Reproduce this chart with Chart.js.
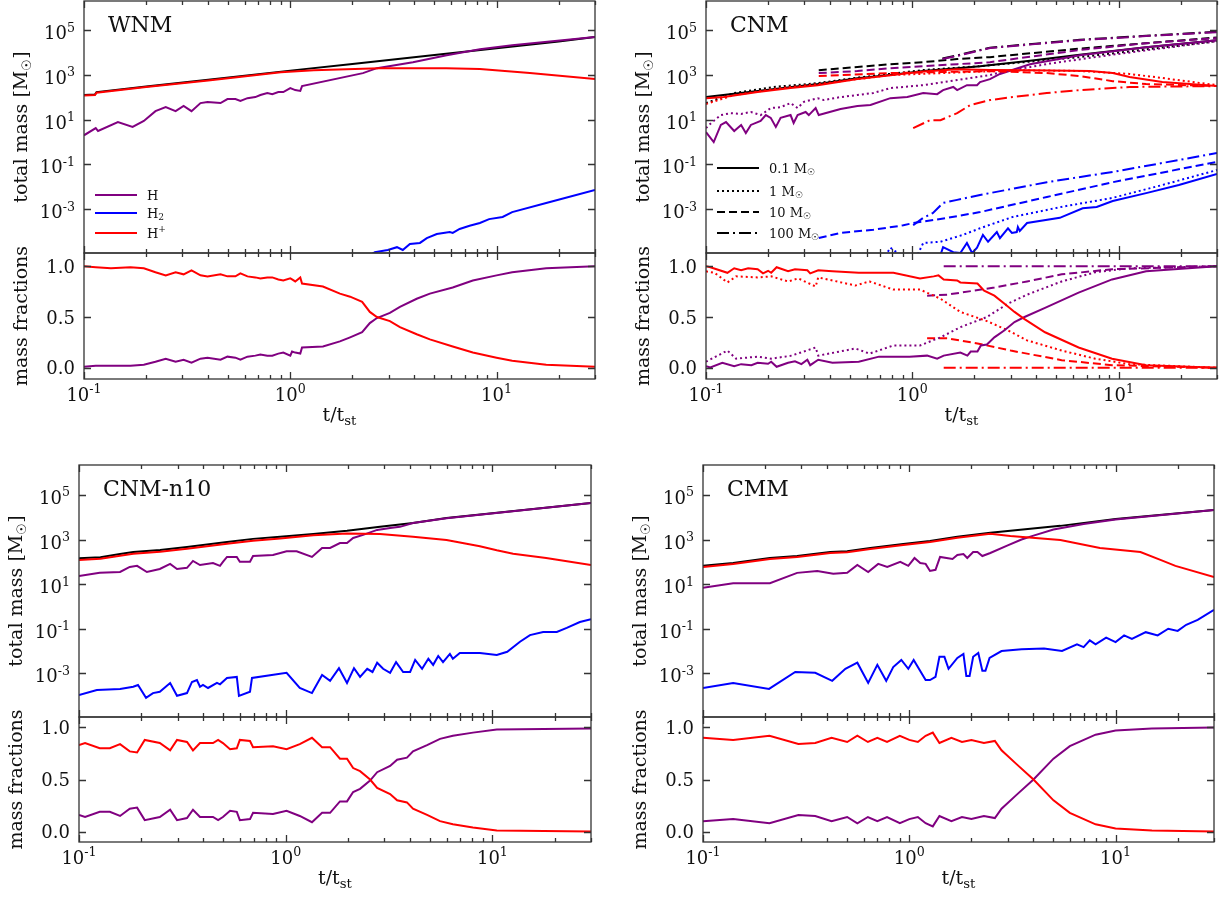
<!DOCTYPE html>
<html>
<head>
<meta charset="utf-8">
<script src="https://cdn.jsdelivr.net/npm/chart.js@4.4.1/dist/chart.umd.min.js"></script>
<style>
  body { margin: 0; background: #fff; width: 1225px; height: 898px; position: relative; overflow: hidden; }
  canvas { position: absolute; }
</style>
</head>
<body>
<script>
// ---------------- WNM (top left) ----------------
const wnmTotT = [0.1, 0.113, 0.115, 0.2, 0.4, 1.0, 2.0, 5.0, 10, 20, 30];
const wnmTot  = [126, 132, 170, 300, 600, 1550, 3100, 7800, 15500, 31000, 49000];
const wnmAtomT = [0.1, 0.114, 0.117, 0.146, 0.172, 0.195, 0.222, 0.249, 0.278, 0.304, 0.332, 0.367, 0.397, 0.459, 0.496, 0.542, 0.573, 0.62, 0.677, 0.716, 0.774, 0.818, 0.875, 0.925, 1.0, 1.057, 1.118, 1.14, 2.25, 2.63, 3.93, 5.73, 8.3, 11.9, 30];
const wnmAtom  = [2.0, 4.2, 3.1, 7.8, 4.7, 8.7, 24, 36, 24, 41, 24, 55, 62, 55, 83, 83, 68, 91, 102, 126, 155, 138, 170, 170, 257, 209, 191, 316, 1200, 2000, 3700, 7600, 14000, 21000, 49000];
const wnmMolT = [2.4, 2.57, 2.97, 3.29, 3.51, 3.80, 4.25, 4.59, 5.13, 5.93, 6.13, 6.62, 7.4, 8.3, 9.2, 10.7, 11.9, 17.4, 30];
const wnmMol  = [8e-6, 1.2e-5, 1.5e-5, 2.0e-5, 1.5e-5, 2.8e-5, 3.1e-5, 5.1e-5, 7.8e-5, 9.5e-5, 8.7e-5, 1.3e-4, 1.8e-4, 2.4e-4, 3.6e-4, 4.5e-4, 7.4e-4, 1.9e-3, 7.2e-3];
const wnmIonT = [0.1, 0.113, 0.115, 0.2, 0.4, 0.9, 1.3, 2.7, 5.7, 8.3, 14.5, 30];
const wnmIon  = [120, 125, 160, 285, 560, 1320, 1620, 2000, 2000, 1820, 1200, 650];
const wnmFracT = [0.1, 0.114, 0.135, 0.168, 0.195, 0.222, 0.249, 0.278, 0.304, 0.332, 0.367, 0.397, 0.459, 0.496, 0.542, 0.573, 0.62, 0.677, 0.716, 0.774, 0.818, 0.875, 0.925, 1.0, 1.02, 1.057, 1.118, 1.14, 1.44, 1.74, 1.95, 2.23, 2.43, 2.63, 3.04, 3.40, 4.1, 4.75, 6.13, 7.67, 10, 11.9, 17.4, 30];
const wnmFracIon  = [1.0, 0.99, 0.98, 0.99, 0.98, 0.94, 0.91, 0.94, 0.92, 0.96, 0.91, 0.90, 0.92, 0.90, 0.90, 0.93, 0.90, 0.89, 0.88, 0.89, 0.89, 0.87, 0.86, 0.88, 0.87, 0.85, 0.89, 0.83, 0.80, 0.73, 0.70, 0.65, 0.55, 0.50, 0.46, 0.40, 0.33, 0.28, 0.21, 0.15, 0.10, 0.07, 0.03, 0.01];
const wnmFracAtom = [0.01, 0.02, 0.02, 0.02, 0.03, 0.06, 0.09, 0.06, 0.08, 0.05, 0.09, 0.10, 0.08, 0.11, 0.10, 0.08, 0.11, 0.12, 0.13, 0.12, 0.12, 0.14, 0.15, 0.12, 0.16, 0.15, 0.14, 0.20, 0.21, 0.26, 0.30, 0.35, 0.44, 0.49, 0.54, 0.60, 0.68, 0.73, 0.79, 0.86, 0.91, 0.94, 0.98, 1.0];

// ---------------- CNM (top right), four sink masses ----------------
// 0.1 Msun (solid)
const cnmTot1T = [0.1, 0.178, 0.348, 0.542, 0.783, 1.13, 1.65, 2.13, 3.72, 6.48, 13.6, 30];
const cnmTot1  = [102, 190, 390, 700, 1000, 1500, 2000, 2450, 4300, 8000, 17000, 35500];
const cnmAtom1T = [0.1, 0.109, 0.118, 0.125, 0.137, 0.148, 0.156, 0.165, 0.184, 0.195, 0.206, 0.218, 0.23, 0.257, 0.266, 0.278, 0.304, 0.315, 0.34, 0.352, 0.449, 0.542, 0.627, 0.783, 0.946, 1.13, 1.32, 1.41, 1.58, 1.65, 1.84, 2.06, 2.13, 2.38, 2.66, 3.72, 6.48, 13.6, 30];
const cnmAtom1  = [2.8, 1.0, 5.8, 7.8, 3.1, 5.8, 2.5, 5.8, 8.7, 16, 12, 4.7, 12, 16, 7.1, 16, 22, 16, 33, 16, 30, 41, 45, 91, 102, 155, 138, 209, 288, 209, 347, 347, 479, 646, 1100, 3000, 7500, 17000, 35000];
const cnmMol1T = [1.37, 1.41, 1.58, 1.71, 1.84, 1.95, 2.06, 2.20, 2.33, 2.57, 2.66, 2.91, 3.04, 3.21, 3.25, 3.32, 3.60, 5.19, 6.70, 7.83, 9.37, 13.6, 19.6, 30];
const cnmMol1  = [9e-6, 2e-5, 1.2e-5, 1.1e-5, 3.1e-5, 1.1e-5, 1.9e-5, 7.1e-5, 3.5e-5, 9.5e-5, 5.1e-5, 1.4e-4, 8.7e-5, 9.5e-5, 1.6e-4, 1.07e-4, 2.4e-4, 4.1e-4, 1.1e-3, 1.26e-3, 2.3e-3, 5.2e-3, 0.012, 0.037];
const cnmIon1T = [0.1, 0.122, 0.178, 0.257, 0.348, 0.542, 0.783, 1.13, 1.65, 2.38, 3.72, 7.24, 9.37, 11.3, 16.3, 30];
const cnmIon1  = [91, 102, 170, 257, 347, 650, 950, 1400, 1800, 1650, 1620, 1480, 1200, 800, 480, 316];
// 1 Msun (dotted)
const cnmTot2T = [0.1, 0.137, 0.213, 0.348, 0.542, 1.13, 2.13, 6.48, 30];
const cnmTot2  = [55, 155, 288, 427, 750, 1650, 2450, 6200, 32000];
const cnmAtom2T = [0.1, 0.106, 0.118, 0.132, 0.148, 0.165, 0.184, 0.206, 0.23, 0.257, 0.278, 0.298, 0.348, 0.372, 0.449, 0.542, 0.648, 0.783, 1.13, 1.65, 2.38, 2.66, 4.64, 9.37, 30];
const cnmAtom2  = [4.2, 7.1, 16, 19.5, 18, 22, 16, 33, 36, 55, 33, 62, 91, 75, 102, 126, 155, 257, 347, 590, 980, 1300, 3200, 8000, 32000];
const cnmMol2T = [0.74, 0.783, 0.875, 1.06, 1.13, 1.37, 1.76, 2.13, 3.07, 5.37, 9.37, 16.3, 30];
const cnmMol2  = [8e-6, 1.9e-5, 9e-6, 9e-6, 3.1e-5, 3.5e-5, 7.1e-5, 1.4e-4, 4.5e-4, 1.3e-3, 3.2e-3, 0.012, 0.056];
const cnmIon2T = [0.1, 0.137, 0.213, 0.348, 0.783, 2.13, 3.5, 6.48, 11.3, 16.3, 30];
const cnmIon2  = [50, 126, 234, 390, 980, 1400, 1600, 1500, 1100, 724, 347];
// 10 Msun (dashed)
const cnmTot3T = [0.352, 0.542, 0.783, 1.13, 1.65, 2.38, 6.48, 30];
const cnmTot3  = [1620, 2240, 3000, 3700, 5100, 6200, 15000, 47000];
const cnmAtom3T = [0.352, 0.542, 0.783, 1.13, 1.65, 2.38, 6.48, 13.6, 30];
const cnmAtom3  = [1200, 1480, 2000, 2450, 3000, 3700, 12900, 26000, 44000];
const cnmMol3T = [0.352, 0.449, 0.648, 0.905, 1.01, 1.48, 2.13, 4.49, 9.37, 30];
const cnmMol3  = [5.1e-5, 8.7e-5, 1.2e-4, 1.9e-4, 2.4e-4, 4.1e-4, 7.4e-4, 3.5e-3, 0.016, 0.13];
const cnmIon3T = [0.352, 0.783, 2.38, 4.49, 6.48, 9.37, 13.6, 30];
const cnmIon3  = [890, 1200, 1480, 1200, 890, 525, 390, 316];
// 100 Msun (dash-dot)
const cnmTot4T = [1.40, 1.71, 2.38, 6.48, 13.6, 30];
const cnmTot4  = [5400, 8000, 16500, 37000, 56000, 84000];
const cnmAtom4T = [1.40, 1.71, 2.38, 6.48, 13.6, 30];
const cnmAtom4  = [5100, 7600, 15800, 35500, 54000, 81000];
const cnmMol4T = [1.01, 1.13, 1.26, 1.41, 1.65, 2.13, 4.49, 9.37, 30];
const cnmMol4  = [1.9e-4, 4.1e-4, 6.8e-4, 1.9e-3, 2.6e-3, 4.3e-3, 0.016, 0.046, 0.32];
const cnmIon4T = [1.01, 1.22, 1.37, 1.65, 1.91, 2.38, 3.07, 4.49, 6.48, 11.3, 30];
const cnmIon4  = [4.2, 9.5, 9.5, 19.5, 45, 75, 102, 155, 209, 288, 316];
// mass fractions
const cnmFIon1T = [0.1, 0.105, 0.127, 0.137, 0.148, 0.16, 0.178, 0.189, 0.2, 0.207, 0.22, 0.25, 0.27, 0.31, 0.32, 0.35, 0.41, 0.55, 0.81, 1.09, 1.27, 1.34, 1.42, 1.65, 1.71, 2.07, 2.23, 2.5, 2.8, 3.13, 3.5, 4.4, 6.4, 9.3, 13.6, 30];
const cnmFIon1  = [1.0, 0.99, 0.935, 0.98, 0.96, 0.98, 0.97, 0.93, 0.955, 0.935, 0.99, 0.95, 0.97, 0.96, 0.93, 0.96, 0.95, 0.935, 0.935, 0.88, 0.90, 0.91, 0.87, 0.86, 0.84, 0.83, 0.76, 0.71, 0.63, 0.55, 0.48, 0.35, 0.20, 0.09, 0.026, 0.0];
const cnmFAtom1T = [0.1, 0.105, 0.12, 0.137, 0.148, 0.166, 0.178, 0.2, 0.207, 0.22, 0.25, 0.27, 0.29, 0.31, 0.32, 0.35, 0.41, 0.55, 0.69, 0.97, 1.18, 1.32, 1.42, 1.71, 1.85, 1.92, 2.07, 2.15, 2.3, 2.5, 2.8, 3.13, 3.5, 4.4, 6.4, 9.3, 13.6, 30];
const cnmFAtom1  = [0.016, 0.003, 0.05, 0.016, 0.036, 0.026, 0.05, 0.04, 0.06, 0.01, 0.05, 0.065, 0.036, 0.08, 0.026, 0.08, 0.05, 0.06, 0.11, 0.11, 0.12, 0.09, 0.12, 0.15, 0.12, 0.16, 0.16, 0.22, 0.23, 0.30, 0.37, 0.45, 0.50, 0.59, 0.74, 0.87, 0.95, 1.0];
const cnmFIon2T = [0.1, 0.11, 0.127, 0.14, 0.178, 0.207, 0.25, 0.28, 0.34, 0.35, 0.53, 0.62, 0.81, 1.09, 1.37, 1.71, 2.3, 2.9, 3.6, 5.3, 7.7, 11.3, 30];
const cnmFIon2  = [0.95, 0.935, 0.84, 0.90, 0.89, 0.90, 0.85, 0.88, 0.80, 0.89, 0.81, 0.85, 0.77, 0.77, 0.68, 0.55, 0.46, 0.37, 0.27, 0.17, 0.09, 0.036, 0.0];
const cnmFAtom2T = [0.1, 0.127, 0.14, 0.178, 0.207, 0.26, 0.34, 0.35, 0.53, 0.62, 0.81, 1.09, 1.37, 1.71, 2.3, 2.9, 3.6, 5.3, 7.7, 11.3, 30];
const cnmFAtom2  = [0.06, 0.17, 0.09, 0.11, 0.09, 0.12, 0.20, 0.12, 0.19, 0.14, 0.22, 0.22, 0.30, 0.40, 0.50, 0.63, 0.72, 0.85, 0.94, 0.98, 1.0];
const cnmFIon3T = [1.18, 1.48, 2.07, 3.0, 5.3, 9.3, 30];
const cnmFIon3  = [0.29, 0.29, 0.24, 0.17, 0.075, 0.026, 0.0];
const cnmFAtom3T = [1.18, 1.48, 2.5, 3.6, 5.3, 9.3, 30];
const cnmFAtom3  = [0.71, 0.72, 0.79, 0.85, 0.92, 0.97, 1.0];
const cnmFIon4T = [1.42, 30];
const cnmFIon4  = [0.0, 0.0];
const cnmFAtom4T = [1.42, 30];
const cnmFAtom4  = [1.0, 1.0];

// ---------------- CNM-n10 (bottom left) ----------------
const n10TotT = [0.1, 0.127, 0.158, 0.183, 0.247, 0.333, 0.52, 0.695, 0.94, 1.36, 1.98, 2.86, 4.13, 6.0, 30];
const n10Tot  = [145, 160, 224, 275, 339, 468, 776, 1070, 1320, 1780, 2450, 3700, 5500, 9300, 44000];
const n10AtomT = [0.1, 0.126, 0.158, 0.176, 0.191, 0.213, 0.246, 0.276, 0.298, 0.333, 0.356, 0.385, 0.445, 0.481, 0.497, 0.52, 0.58, 0.6, 0.672, 0.695, 0.868, 1.01, 1.13, 1.34, 1.50, 1.64, 1.83, 1.98, 2.12, 2.37, 2.77, 3.20, 3.57, 4.13, 6.0, 30];
const n10Atom  = [23, 32, 35, 59, 66, 35, 48, 81, 48, 54, 110, 72, 89, 66, 100, 166, 166, 100, 100, 182, 204, 300, 300, 166, 417, 417, 700, 700, 1170, 1620, 2700, 3300, 3700, 5500, 9000, 44000];
const n10MolT = [0.1, 0.122, 0.158, 0.183, 0.193, 0.211, 0.228, 0.246, 0.276, 0.298, 0.333, 0.352, 0.372, 0.385, 0.398, 0.421, 0.465, 0.481, 0.52, 0.58, 0.594, 0.672, 0.687, 1.01, 1.17, 1.34, 1.50, 1.64, 1.81, 1.98, 2.14, 2.29, 2.48, 2.63, 2.77, 2.96, 3.20, 3.42, 3.70, 4.0, 4.23, 4.57, 4.9, 5.17, 5.47, 5.77, 6.23, 6.44, 6.96, 8.7, 10.5, 11.8, 13.6, 15.2, 17.6, 20.5, 22.9, 26.5, 30];
const n10Mol  = [1.07e-4, 1.8e-4, 2.0e-4, 2.5e-4, 3.0e-4, 8e-5, 1.3e-4, 1.5e-4, 3.7e-4, 9.8e-5, 1.3e-4, 4.1e-4, 5e-4, 2.5e-4, 3e-4, 2.2e-4, 3.7e-4, 3.2e-4, 6.2e-4, 6.9e-4, 9.8e-5, 1.5e-4, 6.2e-4, 1.05e-3, 2.2e-4, 1.3e-4, 8.5e-4, 4.6e-4, 1.7e-3, 3.7e-4, 1.7e-3, 6.9e-4, 1.6e-3, 1.15e-3, 3e-3, 1.6e-3, 1.05e-3, 3.2e-3, 1.15e-3, 1.15e-3, 4e-3, 1.6e-3, 4.5e-3, 2.4e-3, 6e-3, 3.2e-3, 7.4e-3, 4.5e-3, 8.1e-3, 8.1e-3, 6.7e-3, 9.2e-3, 0.026, 0.052, 0.072, 0.072, 0.11, 0.2, 0.27];
const n10IonT = [0.1, 0.127, 0.158, 0.183, 0.247, 0.333, 0.52, 0.695, 0.94, 1.36, 1.98, 2.86, 4.13, 6.0, 8.7, 10.5, 12.6, 18.2, 30];
const n10Ion  = [120, 136, 186, 228, 281, 388, 644, 888, 1100, 1550, 1850, 1780, 1320, 950, 500, 330, 230, 150, 72];
const n10FracT = [0.1, 0.107, 0.126, 0.141, 0.158, 0.176, 0.191, 0.208, 0.246, 0.276, 0.298, 0.333, 0.356, 0.385, 0.445, 0.471, 0.497, 0.538, 0.58, 0.6, 0.672, 0.695, 0.868, 1.01, 1.17, 1.34, 1.50, 1.64, 1.83, 1.98, 2.12, 2.29, 2.56, 2.77, 3.20, 3.46, 3.86, 4.13, 4.83, 5.58, 6.44, 8.05, 10.5, 30];
const n10FracIon  = [0.83, 0.85, 0.80, 0.80, 0.84, 0.77, 0.76, 0.88, 0.85, 0.78, 0.88, 0.86, 0.78, 0.85, 0.85, 0.88, 0.85, 0.79, 0.80, 0.88, 0.87, 0.81, 0.82, 0.79, 0.84, 0.90, 0.81, 0.81, 0.70, 0.70, 0.61, 0.58, 0.50, 0.42, 0.36, 0.30, 0.28, 0.22, 0.16, 0.10, 0.07, 0.04, 0.01, 0.0];
const n10FracAtom = [0.16, 0.14, 0.19, 0.19, 0.15, 0.22, 0.23, 0.11, 0.14, 0.21, 0.11, 0.13, 0.21, 0.14, 0.14, 0.11, 0.14, 0.20, 0.19, 0.11, 0.12, 0.18, 0.17, 0.20, 0.15, 0.09, 0.18, 0.18, 0.29, 0.29, 0.38, 0.41, 0.49, 0.57, 0.63, 0.69, 0.71, 0.77, 0.83, 0.89, 0.92, 0.95, 0.98, 0.99];

// ---------------- CMM (bottom right) ----------------
const cmmTotT = [0.1, 0.14, 0.211, 0.286, 0.414, 0.5, 0.647, 0.935, 1.26, 1.71, 2.47, 5.4, 10, 30];
const cmmTot  = [66, 89, 148, 182, 275, 300, 417, 630, 870, 1320, 2000, 4100, 8300, 21000];
const cmmAtomT = [0.1, 0.14, 0.211, 0.286, 0.358, 0.428, 0.50, 0.56, 0.632, 0.707, 0.782, 0.904, 0.989, 1.06, 1.13, 1.2, 1.26, 1.34, 1.41, 1.62, 1.71, 1.83, 1.91, 2.04, 2.14, 2.26, 2.47, 3.0, 3.5, 4.0, 5.0, 7.0, 10, 30];
const cmmAtom  = [6.8, 11, 11, 32, 39, 29, 32, 72, 35, 81, 59, 100, 66, 148, 89, 81, 39, 44, 166, 135, 204, 224, 148, 275, 275, 182, 250, 550, 1000, 1500, 2800, 5000, 8000, 21000];
const cmmMolT = [0.1, 0.14, 0.209, 0.28, 0.35, 0.423, 0.49, 0.56, 0.632, 0.70, 0.773, 0.836, 0.915, 0.989, 1.05, 1.2, 1.26, 1.34, 1.40, 1.48, 1.55, 1.71, 1.83, 1.89, 1.96, 2.04, 2.16, 2.26, 2.34, 2.45, 2.8, 3.5, 4.5, 5.5, 6.5, 7, 7.5, 8, 9, 10, 11, 12, 14, 16, 18, 20, 22, 25, 30];
const cmmMol  = [2.2e-4, 3.7e-4, 2e-4, 1.15e-3, 1.05e-3, 4.6e-4, 1.6e-3, 3e-3, 3.7e-4, 2.4e-3, 4.6e-4, 1.9e-3, 4e-3, 1.6e-3, 4e-3, 5e-4, 5e-4, 6.9e-4, 5.5e-3, 5.5e-3, 1.6e-3, 4.9e-3, 7.4e-3, 7.6e-4, 7.6e-4, 5.5e-3, 8.1e-3, 1.3e-3, 1.3e-3, 4.9e-3, 0.01, 0.012, 0.013, 0.01, 0.02, 0.015, 0.03, 0.02, 0.04, 0.025, 0.05, 0.035, 0.07, 0.05, 0.1, 0.08, 0.15, 0.25, 0.7];
const cmmIonT = [0.1, 0.14, 0.211, 0.286, 0.414, 0.5, 0.647, 0.935, 1.26, 1.71, 2.47, 3.09, 5.4, 8.4, 13.2, 16.5, 19.5, 30];
const cmmIon  = [59, 80, 133, 164, 248, 270, 375, 567, 783, 1190, 1800, 1450, 950, 420, 275, 123, 66, 21];
const cmmFracT = [0.1, 0.14, 0.21, 0.29, 0.35, 0.42, 0.5, 0.56, 0.63, 0.7, 0.78, 0.9, 1.0, 1.1, 1.2, 1.3, 1.4, 1.6, 1.8, 2.0, 2.3, 2.6, 2.8, 3.3, 4.0, 5.0, 6.0, 8.0, 10, 15, 30];
const cmmFracIon  = [0.90, 0.88, 0.92, 0.84, 0.85, 0.90, 0.86, 0.92, 0.86, 0.90, 0.86, 0.92, 0.88, 0.86, 0.92, 0.95, 0.85, 0.90, 0.86, 0.88, 0.85, 0.87, 0.78, 0.65, 0.50, 0.30, 0.18, 0.07, 0.03, 0.01, 0.0];
const cmmFracAtom = [0.10, 0.12, 0.08, 0.16, 0.15, 0.10, 0.14, 0.08, 0.14, 0.10, 0.14, 0.08, 0.12, 0.14, 0.08, 0.05, 0.15, 0.10, 0.14, 0.12, 0.15, 0.13, 0.22, 0.35, 0.50, 0.70, 0.82, 0.93, 0.97, 0.99, 1.0];

// tick labels
const massTicks = [1e-3, 1e-1, 1e1, 1e3, 1e5];
const massLabels = ['10^{-3}', '10^{-1}', '10^{1}', '10^{3}', '10^{5}'];
const fracTicks = [0, 0.5, 1];
const fracLabels = ['0.0', '0.5', '1.0'];
const timeTicks = [0.1, 1, 10];
const timeLabels = ['10^{-1}', '10^{0}', '10^{1}'];

const purple = '#800080', blue = '#0000ff', red = '#ff0000', black = '#000000';
const DOT = [2, 3], DASH = [8, 4], DASHDOT = [12, 4, 2, 4];
const SERIF = '"DejaVu Serif", "Liberation Serif", serif';

function series(t, v, color, dash) {
  return {
    data: t.map((x, i) => ({ x: x, y: v[i] })),
    borderColor: color, borderWidth: 2, borderDash: dash || [],
    pointRadius: 0, tension: 0, fill: false
  };
}

// tiny "mathtext": a^{b} / a_{b}
function parse(s) {
  const out = [];
  let i = 0;
  while (i < s.length) {
    if ((s[i] === '^' || s[i] === '_') && s[i + 1] === '{') {
      const j = s.indexOf('}', i);
      out.push({ t: s.slice(i + 2, j), sup: s[i] === '^', sub: s[i] === '_' });
      i = j + 1;
    } else {
      let j = i;
      while (j < s.length && !((s[j] === '^' || s[j] === '_') && s[j + 1] === '{')) j++;
      out.push({ t: s.slice(i, j) });
      i = j;
    }
  }
  return out;
}

function drawRich(ctx, str, x, y, size, align) {
  const parts = parse(str);
  let w = 0;
  parts.forEach(p => {
    ctx.font = ((p.sup || p.sub) ? size * 0.7 : size) + 'px ' + SERIF;
    w += ctx.measureText(p.t).width;
  });
  let cx = align === 'right' ? x - w : align === 'center' ? x - w / 2 : x;
  ctx.textAlign = 'left';
  ctx.textBaseline = 'alphabetic';
  parts.forEach(p => {
    ctx.font = ((p.sup || p.sub) ? size * 0.7 : size) + 'px ' + SERIF;
    const dy = p.sup ? -size * 0.42 : p.sub ? size * 0.22 : 0;
    ctx.fillText(p.t, cx, y + dy);
    cx += ctx.measureText(p.t).width;
  });
}

// matplotlib-like frame: inward ticks on all sides, labels, titles, legend
const framePlugin = {
  id: 'frame',
  afterDraw(chart, args, o) {
    const ctx = chart.ctx, a = chart.chartArea;
    const xs = chart.scales.x, ys = chart.scales.y;
    ctx.save();
    ctx.strokeStyle = '#333';
    ctx.lineWidth = 1.3;
    ctx.setLineDash([]);
    ctx.strokeRect(a.left, a.top, a.right - a.left, a.bottom - a.top);

    ctx.beginPath();
    for (let d = -1; d <= 1; d++) {
      for (let k = 1; k <= 9; k++) {
        const v = k * Math.pow(10, d);
        if (v < xs.min || v > xs.max) continue;
        const px = Math.round(xs.getPixelForValue(v)) + 0.5;
        const len = k === 1 ? 7 : 4;
        ctx.moveTo(px, a.bottom); ctx.lineTo(px, a.bottom - len);
        ctx.moveTo(px, a.top); ctx.lineTo(px, a.top + len);
      }
    }
    o.yTicks.forEach(v => {
      const py = Math.round(ys.getPixelForValue(v)) + 0.5;
      ctx.moveTo(a.left, py); ctx.lineTo(a.left + 7, py);
      ctx.moveTo(a.right, py); ctx.lineTo(a.right - 7, py);
    });
    ctx.stroke();

    ctx.fillStyle = '#111';
    o.yTicks.forEach((v, i) => {
      const lab = o.yLabels[i];
      const off = lab.indexOf('^') >= 0 ? 9 : 6.5;
      drawRich(ctx, lab, a.left - 9, ys.getPixelForValue(v) + off, 18, 'right');
    });
    if (o.xAxis) {
      timeTicks.forEach((v, i) => drawRich(ctx, timeLabels[i], xs.getPixelForValue(v), a.bottom + 22, 18, 'center'));
      drawRich(ctx, 't/t_{st}', (a.left + a.right) / 2, a.bottom + 42, 19, 'center');
    }
    // rotated y title
    ctx.save();
    ctx.translate(a.left - 57, (a.top + a.bottom) / 2);
    ctx.rotate(-Math.PI / 2);
    drawRich(ctx, o.yTitle, 0, 0, 19, 'center');
    ctx.restore();

    if (o.name) drawRich(ctx, o.name, a.left + 24, a.top + 31, 22, 'left');

    (o.legend || []).forEach(it => {
      const y = a.top + it.y;
      ctx.strokeStyle = it.color;
      ctx.lineWidth = 2;
      ctx.setLineDash(it.dash || []);
      ctx.beginPath(); ctx.moveTo(a.left + 11, y); ctx.lineTo(a.left + 53, y); ctx.stroke();
      ctx.setLineDash([]);
      ctx.fillStyle = '#111';
      drawRich(ctx, it.label, a.left + 63, y + 4.5, 13, 'left');
    });
    ctx.restore();
  }
};

const LEFT = 90, RIGHT = 10;

// box = plot rectangle in page pixels; later datasets are drawn on top
function makeChart(box, yType, yMin, yMax, datasets, frame, padT, padB) {
  const W = box.x1 - box.x0, H = box.y1 - box.y0;
  const cv = document.createElement('canvas');
  cv.width = W + LEFT + RIGHT;
  cv.height = H + padT + padB;
  cv.style.left = (box.x0 - LEFT) + 'px';
  cv.style.top = (box.y0 - padT) + 'px';
  document.body.appendChild(cv);
  datasets.forEach((d, i) => { d.order = -i; });
  return new Chart(cv, {
    type: 'line',
    data: { datasets: datasets },
    options: {
      responsive: false,
      animation: false,
      devicePixelRatio: 1,
      layout: { padding: { left: 0, right: RIGHT, top: padT, bottom: padB } },
      scales: {
        x: {
          type: 'logarithmic', min: 0.1, max: 30,
          ticks: { display: false }, grid: { display: false, drawTicks: false }, border: { display: false },
          afterFit: s => { s.height = 0; }
        },
        y: {
          type: yType, min: yMin, max: yMax,
          ticks: { display: false }, grid: { display: false, drawTicks: false }, border: { display: false },
          afterFit: s => { s.width = LEFT; }
        }
      },
      plugins: { legend: { display: false }, tooltip: { enabled: false }, frame: frame }
    },
    plugins: [framePlugin]
  });
}

function topFrame(name, legend) {
  return { yTicks: massTicks, yLabels: massLabels, yTitle: 'total mass [M_{☉}]', name: name, legend: legend };
}
function botFrame() {
  return { yTicks: fracTicks, yLabels: fracLabels, yTitle: 'mass fractions', xAxis: true };
}

// ---- WNM ----
makeChart({ x0: 84, x1: 595, y0: 1, y1: 253 }, 'logarithmic', 1.1e-5, 2e6, [
  series(wnmTotT, wnmTot, black),
  series(wnmAtomT, wnmAtom, purple),
  series(wnmMolT, wnmMol, blue),
  series(wnmIonT, wnmIon, red)
], topFrame('WNM', [
  { label: 'H', color: purple, y: 194 },
  { label: 'H_{2}', color: blue, y: 212 },
  { label: 'H^{+}', color: red, y: 232 }
]), 6, 6);
makeChart({ x0: 84, x1: 595, y0: 253, y1: 379 }, 'linear', -0.11, 1.13, [
  series(wnmFracT, wnmFracAtom, purple),
  series(wnmFracT, wnmFracIon, red)
], botFrame(), 20, 50);

// ---- CNM ----
makeChart({ x0: 706, x1: 1217, y0: 1, y1: 253 }, 'logarithmic', 1.1e-5, 2e6, [
  series(cnmTot1T, cnmTot1, black),
  series(cnmTot2T, cnmTot2, black, DOT),
  series(cnmTot3T, cnmTot3, black, DASH),
  series(cnmTot4T, cnmTot4, black, DASHDOT),
  series(cnmAtom1T, cnmAtom1, purple),
  series(cnmAtom2T, cnmAtom2, purple, DOT),
  series(cnmAtom3T, cnmAtom3, purple, DASH),
  series(cnmAtom4T, cnmAtom4, purple, DASHDOT),
  series(cnmMol1T, cnmMol1, blue),
  series(cnmMol2T, cnmMol2, blue, DOT),
  series(cnmMol3T, cnmMol3, blue, DASH),
  series(cnmMol4T, cnmMol4, blue, DASHDOT),
  series(cnmIon4T, cnmIon4, red, DASHDOT),
  series(cnmIon3T, cnmIon3, red, DASH),
  series(cnmIon2T, cnmIon2, red, DOT),
  series(cnmIon1T, cnmIon1, red)
], topFrame('CNM', [
  { label: '0.1 M_{☉}', color: black, y: 167 },
  { label: '1 M_{☉}', color: black, dash: DOT, y: 190 },
  { label: '10 M_{☉}', color: black, dash: DASH, y: 211 },
  { label: '100 M_{☉}', color: black, dash: DASHDOT, y: 232 }
]), 6, 6);
makeChart({ x0: 706, x1: 1217, y0: 253, y1: 379 }, 'linear', -0.11, 1.13, [
  series(cnmFAtom4T, cnmFAtom4, purple, DASHDOT),
  series(cnmFIon4T, cnmFIon4, red, DASHDOT),
  series(cnmFAtom3T, cnmFAtom3, purple, DASH),
  series(cnmFIon3T, cnmFIon3, red, DASH),
  series(cnmFAtom2T, cnmFAtom2, purple, DOT),
  series(cnmFIon2T, cnmFIon2, red, DOT),
  series(cnmFAtom1T, cnmFAtom1, purple),
  series(cnmFIon1T, cnmFIon1, red)
], botFrame(), 20, 50);

// ---- CNM-n10 ----
makeChart({ x0: 79, x1: 591, y0: 465, y1: 717 }, 'logarithmic', 1.1e-5, 2.2e6, [
  series(n10TotT, n10Tot, black),
  series(n10AtomT, n10Atom, purple),
  series(n10MolT, n10Mol, blue),
  series(n10IonT, n10Ion, red)
], topFrame('CNM-n10'), 6, 6);
makeChart({ x0: 79, x1: 591, y0: 717, y1: 842 }, 'linear', -0.1, 1.1, [
  series(n10FracT, n10FracAtom, purple),
  series(n10FracT, n10FracIon, red)
], botFrame(), 20, 50);

// ---- CMM ----
makeChart({ x0: 703, x1: 1214, y0: 465, y1: 717 }, 'logarithmic', 1.1e-5, 2.2e6, [
  series(cmmTotT, cmmTot, black),
  series(cmmAtomT, cmmAtom, purple),
  series(cmmMolT, cmmMol, blue),
  series(cmmIonT, cmmIon, red)
], topFrame('CMM'), 6, 6);
makeChart({ x0: 703, x1: 1214, y0: 717, y1: 842 }, 'linear', -0.1, 1.1, [
  series(cmmFracT, cmmFracAtom, purple),
  series(cmmFracT, cmmFracIon, red)
], botFrame(), 20, 50);
</script>
</body>
</html>
